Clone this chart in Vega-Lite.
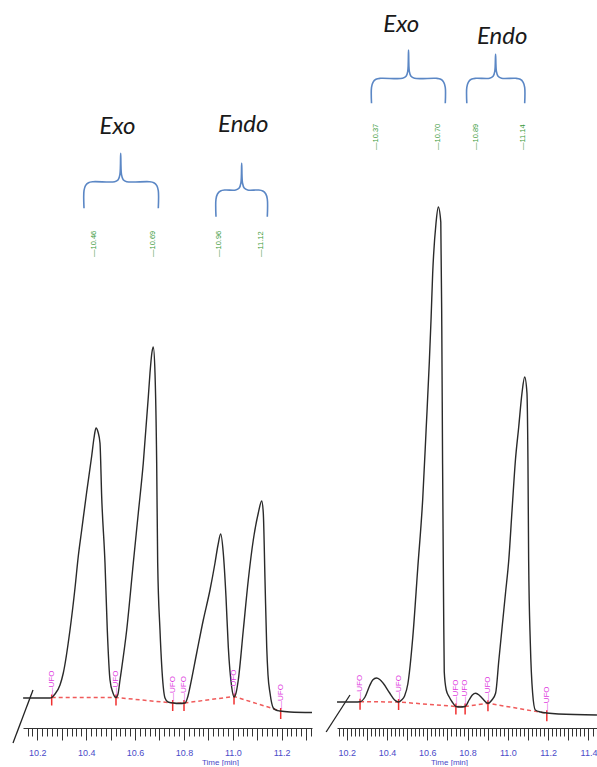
{
  "$schema": "https://vega.github.io/schema/vega-lite/v6.json",
  "padding": {"left": 10, "top": 0, "right": 0, "bottom": 0},
  "bounds": "flush",
  "spacing": 25,
  "background": "white",
  "config": {
    "view": {"stroke": null},
    "axis": {
      "grid": false,
      "domainColor": "#333333",
      "domainWidth": 1,
      "tickColor": "#333333",
      "tickWidth": 1,
      "labelColor": "#4a4ac8",
      "labelFont": "Liberation Sans",
      "labelFontSize": 9,
      "labelPadding": 8,
      "labelFlush": false,
      "labelOverlap": false,
      "titleColor": "#4a4ac8",
      "titleFont": "Liberation Sans",
      "titleFontSize": 8,
      "titleFontWeight": "normal",
      "titlePadding": 1
    }
  },
  "datasets": {
    "lt": [
      {"time": 10.142, "signal": 30}, {"time": 10.252, "signal": 30}, {"time": 10.2589, "signal": 30.5}, {"time": 10.2724, "signal": 34},
      {"time": 10.2929, "signal": 43}, {"time": 10.3064, "signal": 55}, {"time": 10.3338, "signal": 98}, {"time": 10.3543, "signal": 140},
      {"time": 10.3678, "signal": 172}, {"time": 10.3817, "signal": 198}, {"time": 10.4021, "signal": 236}, {"time": 10.4226, "signal": 272},
      {"time": 10.432, "signal": 290}, {"time": 10.4402, "signal": 300}, {"time": 10.4484, "signal": 296}, {"time": 10.4565, "signal": 285},
      {"time": 10.4635, "signal": 231}, {"time": 10.477, "signal": 165}, {"time": 10.4864, "signal": 98}, {"time": 10.4975, "signal": 48},
      {"time": 10.5097, "signal": 35}, {"time": 10.522, "signal": 30.5}, {"time": 10.5302, "signal": 34}, {"time": 10.5384, "signal": 48},
      {"time": 10.5658, "signal": 98}, {"time": 10.5928, "signal": 165}, {"time": 10.6133, "signal": 215}, {"time": 10.6337, "signal": 265},
      {"time": 10.6542, "signal": 331}, {"time": 10.6611, "signal": 355}, {"time": 10.6693, "signal": 376}, {"time": 10.6746, "signal": 381},
      {"time": 10.6816, "signal": 355}, {"time": 10.6885, "signal": 265}, {"time": 10.6926, "signal": 165}, {"time": 10.702, "signal": 98},
      {"time": 10.7155, "signal": 41}, {"time": 10.7225, "signal": 30}, {"time": 10.7347, "signal": 26}, {"time": 10.7565, "signal": 25},
      {"time": 10.7798, "signal": 24.5}, {"time": 10.8043, "signal": 25}, {"time": 10.8166, "signal": 32}, {"time": 10.8248, "signal": 41},
      {"time": 10.8522, "signal": 75}, {"time": 10.8792, "signal": 108}, {"time": 10.9066, "signal": 138}, {"time": 10.9271, "signal": 165},
      {"time": 10.9394, "signal": 183}, {"time": 10.9504, "signal": 194}, {"time": 10.961, "signal": 175}, {"time": 10.9721, "signal": 131},
      {"time": 10.9815, "signal": 81}, {"time": 10.9954, "signal": 41}, {"time": 11.0049, "signal": 31}, {"time": 11.0131, "signal": 35},
      {"time": 11.0224, "signal": 48}, {"time": 11.0429, "signal": 98}, {"time": 11.0633, "signal": 148}, {"time": 11.0838, "signal": 188},
      {"time": 11.1043, "signal": 215}, {"time": 11.1182, "signal": 227}, {"time": 11.1247, "signal": 215}, {"time": 11.1317, "signal": 148},
      {"time": 11.1387, "signal": 81}, {"time": 11.144, "signal": 53}, {"time": 11.1522, "signal": 35}, {"time": 11.1656, "signal": 20},
      {"time": 11.1767, "signal": 18}, {"time": 11.1931, "signal": 17}, {"time": 11.234, "signal": 16}, {"time": 11.324, "signal": 15.5}
    ],
    "rt": [
      {"time": 10.152, "signal": 26}, {"time": 10.2409, "signal": 26}, {"time": 10.2663, "signal": 26.3}, {"time": 10.2909, "signal": 31},
      {"time": 10.3133, "signal": 42}, {"time": 10.3291, "signal": 48}, {"time": 10.3478, "signal": 50}, {"time": 10.364, "signal": 48.5},
      {"time": 10.3803, "signal": 45}, {"time": 10.4133, "signal": 35}, {"time": 10.4379, "signal": 28}, {"time": 10.4576, "signal": 26},
      {"time": 10.4724, "signal": 28}, {"time": 10.4872, "signal": 32}, {"time": 10.5034, "signal": 44}, {"time": 10.5281, "signal": 91},
      {"time": 10.5527, "signal": 160}, {"time": 10.5773, "signal": 229}, {"time": 10.5941, "signal": 298}, {"time": 10.6103, "signal": 367},
      {"time": 10.6187, "signal": 409}, {"time": 10.6266, "signal": 454}, {"time": 10.6433, "signal": 505}, {"time": 10.6547, "signal": 521},
      {"time": 10.667, "signal": 506}, {"time": 10.6719, "signal": 402}, {"time": 10.6759, "signal": 264}, {"time": 10.6808, "signal": 126},
      {"time": 10.6842, "signal": 56}, {"time": 10.6941, "signal": 38}, {"time": 10.7089, "signal": 31}, {"time": 10.7236, "signal": 26},
      {"time": 10.7419, "signal": 21.5}, {"time": 10.7631, "signal": 21}, {"time": 10.7877, "signal": 21.5}, {"time": 10.8074, "signal": 28},
      {"time": 10.8236, "signal": 33}, {"time": 10.8404, "signal": 34.7}, {"time": 10.8567, "signal": 33}, {"time": 10.8714, "signal": 30},
      {"time": 10.901, "signal": 24.7}, {"time": 10.9207, "signal": 28}, {"time": 10.9389, "signal": 34.7}, {"time": 10.9552, "signal": 68},
      {"time": 10.9714, "signal": 101}, {"time": 10.9882, "signal": 135}, {"time": 11.0044, "signal": 168}, {"time": 11.0207, "signal": 218},
      {"time": 11.0374, "signal": 268}, {"time": 11.0537, "signal": 301}, {"time": 11.07, "signal": 335}, {"time": 11.0833, "signal": 351},
      {"time": 11.0946, "signal": 335}, {"time": 11.0995, "signal": 268}, {"time": 11.103, "signal": 168}, {"time": 11.1113, "signal": 85},
      {"time": 11.1227, "signal": 35}, {"time": 11.136, "signal": 18}, {"time": 11.1621, "signal": 16}, {"time": 11.1931, "signal": 15},
      {"time": 11.2507, "signal": 14}, {"time": 11.442, "signal": 13}
    ],
    "lb": [
      {"time": 10.2589, "signal": 30.5}, {"time": 10.522, "signal": 30.5}, {"time": 10.754, "signal": 25},
      {"time": 10.8003, "signal": 25}, {"time": 11.0049, "signal": 31.5}, {"time": 11.1959, "signal": 17}
    ],
    "rb": [
      {"time": 10.2663, "signal": 26.3}, {"time": 10.4576, "signal": 26}, {"time": 10.7419, "signal": 21.5},
      {"time": 10.7877, "signal": 21.5}, {"time": 10.901, "signal": 24.7}, {"time": 11.1931, "signal": 14.7}
    ],
    "lp": [
      {"time": 10.4332, "signal": 471, "label": "—10.46"}, {"time": 10.6746, "signal": 471, "label": "—10.69"},
      {"time": 10.9447, "signal": 471, "label": "—10.96"}, {"time": 11.1153, "signal": 471, "label": "—11.12"}
    ],
    "rp": [
      {"time": 10.3478, "signal": 578, "label": "—10.37"}, {"time": 10.6512, "signal": 578, "label": "—10.70"},
      {"time": 10.8404, "signal": 578, "label": "—10.89"}, {"time": 11.0734, "signal": 578, "label": "—11.14"}
    ],
    "lbr": [
      {"brace": "Exo", "i": 1, "time": 10.3911, "signal": 519.7}, {"brace": "Exo", "i": 2, "time": 10.3911, "signal": 537.3},
      {"brace": "Exo", "i": 3, "time": 10.3972, "signal": 542.3}, {"brace": "Exo", "i": 4, "time": 10.4095, "signal": 545.3},
      {"brace": "Exo", "i": 5, "time": 10.4279, "signal": 546.3}, {"brace": "Exo", "i": 6, "time": 10.5167, "signal": 546.3},
      {"brace": "Exo", "i": 7, "time": 10.531, "signal": 548.3}, {"brace": "Exo", "i": 8, "time": 10.538, "signal": 553.3},
      {"brace": "Exo", "i": 9, "time": 10.5412, "signal": 574.7}, {"brace": "Exo", "i": 10, "time": 10.5445, "signal": 553.3},
      {"brace": "Exo", "i": 11, "time": 10.5515, "signal": 548.3}, {"brace": "Exo", "i": 12, "time": 10.5658, "signal": 546.3},
      {"brace": "Exo", "i": 13, "time": 10.6583, "signal": 546.3}, {"brace": "Exo", "i": 14, "time": 10.6767, "signal": 545.3},
      {"brace": "Exo", "i": 15, "time": 10.689, "signal": 542.3}, {"brace": "Exo", "i": 16, "time": 10.6951, "signal": 537.3},
      {"brace": "Exo", "i": 17, "time": 10.6951, "signal": 519.7},
      {"brace": "Endo", "i": 1, "time": 10.9312, "signal": 511.3}, {"brace": "Endo", "i": 2, "time": 10.9312, "signal": 529},
      {"brace": "Endo", "i": 3, "time": 10.9373, "signal": 534}, {"brace": "Endo", "i": 4, "time": 10.9496, "signal": 537},
      {"brace": "Endo", "i": 5, "time": 10.968, "signal": 538}, {"brace": "Endo", "i": 6, "time": 11.0118, "signal": 538},
      {"brace": "Endo", "i": 7, "time": 11.0261, "signal": 540}, {"brace": "Endo", "i": 8, "time": 11.0331, "signal": 545},
      {"brace": "Endo", "i": 9, "time": 11.0363, "signal": 564.7}, {"brace": "Endo", "i": 10, "time": 11.0396, "signal": 545},
      {"brace": "Endo", "i": 11, "time": 11.0466, "signal": 540}, {"brace": "Endo", "i": 12, "time": 11.0609, "signal": 538},
      {"brace": "Endo", "i": 13, "time": 11.1043, "signal": 538}, {"brace": "Endo", "i": 14, "time": 11.1227, "signal": 537},
      {"brace": "Endo", "i": 15, "time": 11.135, "signal": 534}, {"brace": "Endo", "i": 16, "time": 11.1411, "signal": 529},
      {"brace": "Endo", "i": 17, "time": 11.1411, "signal": 511.3}
    ],
    "rbr": [
      {"brace": "Exo", "i": 1, "time": 10.3232, "signal": 624.7}, {"brace": "Exo", "i": 2, "time": 10.3232, "signal": 640.7},
      {"brace": "Exo", "i": 3, "time": 10.3305, "signal": 645.7}, {"brace": "Exo", "i": 4, "time": 10.3453, "signal": 648.7},
      {"brace": "Exo", "i": 5, "time": 10.3675, "signal": 649.7}, {"brace": "Exo", "i": 6, "time": 10.4773, "signal": 649.7},
      {"brace": "Exo", "i": 7, "time": 10.4946, "signal": 651.7}, {"brace": "Exo", "i": 8, "time": 10.503, "signal": 656.7},
      {"brace": "Exo", "i": 9, "time": 10.5069, "signal": 678}, {"brace": "Exo", "i": 10, "time": 10.5108, "signal": 656.7},
      {"brace": "Exo", "i": 11, "time": 10.5192, "signal": 651.7}, {"brace": "Exo", "i": 12, "time": 10.5365, "signal": 649.7},
      {"brace": "Exo", "i": 13, "time": 10.6448, "signal": 649.7}, {"brace": "Exo", "i": 14, "time": 10.667, "signal": 648.7},
      {"brace": "Exo", "i": 15, "time": 10.6818, "signal": 645.7}, {"brace": "Exo", "i": 16, "time": 10.6892, "signal": 640.7},
      {"brace": "Exo", "i": 17, "time": 10.6892, "signal": 624.7},
      {"brace": "Endo", "i": 1, "time": 10.7961, "signal": 624.7}, {"brace": "Endo", "i": 2, "time": 10.7961, "signal": 640.7},
      {"brace": "Endo", "i": 3, "time": 10.8034, "signal": 645.7}, {"brace": "Endo", "i": 4, "time": 10.8182, "signal": 648.7},
      {"brace": "Endo", "i": 5, "time": 10.8404, "signal": 649.7}, {"brace": "Endo", "i": 6, "time": 10.9094, "signal": 649.7},
      {"brace": "Endo", "i": 7, "time": 10.9266, "signal": 651.7}, {"brace": "Endo", "i": 8, "time": 10.935, "signal": 656.7},
      {"brace": "Endo", "i": 9, "time": 10.9389, "signal": 673.7}, {"brace": "Endo", "i": 10, "time": 10.9429, "signal": 656.7},
      {"brace": "Endo", "i": 11, "time": 10.9512, "signal": 651.7}, {"brace": "Endo", "i": 12, "time": 10.9685, "signal": 649.7},
      {"brace": "Endo", "i": 13, "time": 11.0389, "signal": 649.7}, {"brace": "Endo", "i": 14, "time": 11.0611, "signal": 648.7},
      {"brace": "Endo", "i": 15, "time": 11.0759, "signal": 645.7}, {"brace": "Endo", "i": 16, "time": 11.0833, "signal": 640.7},
      {"brace": "Endo", "i": 17, "time": 11.0833, "signal": 624.7}
    ],
    "ln": [
      {"time": 10.5281, "signal": 601.3, "label": "Exo"}, {"time": 11.0429, "signal": 603, "label": "Endo"}
    ],
    "rn": [
      {"time": 10.4709, "signal": 703, "label": "Exo"}, {"time": 10.9714, "signal": 690.7, "label": "Endo"}
    ],
    "ls": [
      {"time": 10.1006, "signal": -15}, {"time": 10.1824, "signal": 38}
    ],
    "rs": [
      {"time": 10.098, "signal": -4}, {"time": 10.2163, "signal": 33}
    ]
  },
  "hconcat": [
    {
      "width": 289,
      "height": 728,
      "encoding": {
        "x": {
          "field": "time", "type": "quantitative",
          "scale": {"domain": [10.1415, 11.324], "nice": false, "zero": false},
          "axis": {
            "title": "Time [min]",
            "titleX": 197,
            "titleAlign": "center",
            "values": [10.16,10.18,10.2,10.22,10.24,10.26,10.28,10.3,10.32,10.34,10.36,10.38,10.4,10.42,10.44,10.46,10.48,10.5,10.52,10.54,10.56,10.58,10.6,10.62,10.64,10.66,10.68,10.7,10.72,10.74,10.76,10.78,10.8,10.82,10.84,10.86,10.88,10.9,10.92,10.94,10.96,10.98,11,11.02,11.04,11.06,11.08,11.1,11.12,11.14,11.16,11.18,11.2,11.22,11.24,11.26,11.28,11.3,11.32],
            "labelExpr": "abs(datum.value*5 - round(datum.value*5)) < 0.01 ? format(datum.value, '.1f') : ''",
            "tickSize": {"condition": {"test": "abs(datum.value*10 - round(datum.value*10)) < 0.01", "value": 12}, "value": 8}
          }
        },
        "y": {
          "field": "signal", "type": "quantitative",
          "scale": {"domain": [0, 728], "nice": false},
          "axis": null
        }
      },
      "layer": [
        {"data": {"name": "ls"}, "mark": {"type": "line", "color": "#222222", "strokeWidth": 1.3}},
        {"data": {"name": "lb"}, "mark": {"type": "line", "color": "#f05a5a", "strokeWidth": 1.5, "strokeDash": [4, 3]}},
        {"data": {"name": "lb"}, "mark": {"type": "rule", "color": "#f03030", "strokeWidth": 1.5, "yOffset": -3, "y2Offset": 8}, "encoding": {"y2": {"field": "signal"}}},
        {"data": {"name": "lt"}, "mark": {"type": "line", "color": "#2a2a2a", "strokeWidth": 1.4, "interpolate": "monotone"}},
        {"data": {"name": "lb"}, "mark": {"type": "text", "angle": 270, "align": "left", "baseline": "middle", "font": "Liberation Sans", "fontSize": 8, "color": "#e03ce0", "dx": 2}, "encoding": {"text": {"value": "—UFO"}}},
        {"data": {"name": "lp"}, "mark": {"type": "text", "angle": 270, "align": "left", "baseline": "middle", "font": "Liberation Sans", "fontSize": 7.5, "color": "#3a9a3a"}, "encoding": {"text": {"field": "label"}}},
        {"data": {"name": "lbr"}, "mark": {"type": "line", "color": "#5b87c5", "strokeWidth": 1.6, "interpolate": "catmull-rom"}, "encoding": {"order": {"field": "i"}, "detail": {"field": "brace"}}},
        {"data": {"name": "ln"}, "mark": {"type": "text", "font": "Lato", "fontStyle": "italic", "fontSize": 24, "color": "#1a1a1a", "baseline": "middle", "align": "center"}, "encoding": {"text": {"field": "label"}}}
      ]
    },
    {
      "width": 260,
      "height": 728,
      "encoding": {
        "x": {
          "field": "time", "type": "quantitative",
          "scale": {"domain": [10.1519, 11.4422], "nice": false, "zero": false},
          "axis": {
            "title": "Time [min]",
            "titleX": 112,
            "titleAlign": "center",
            "values": [10.16,10.18,10.2,10.22,10.24,10.26,10.28,10.3,10.32,10.34,10.36,10.38,10.4,10.42,10.44,10.46,10.48,10.5,10.52,10.54,10.56,10.58,10.6,10.62,10.64,10.66,10.68,10.7,10.72,10.74,10.76,10.78,10.8,10.82,10.84,10.86,10.88,10.9,10.92,10.94,10.96,10.98,11,11.02,11.04,11.06,11.08,11.1,11.12,11.14,11.16,11.18,11.2,11.22,11.24,11.26,11.28,11.3,11.32,11.34,11.36,11.38,11.4,11.42,11.44],
            "labelExpr": "abs(datum.value*5 - round(datum.value*5)) < 0.01 ? format(datum.value, '.1f') : ''",
            "tickSize": {"condition": {"test": "abs(datum.value*10 - round(datum.value*10)) < 0.01", "value": 12}, "value": 8}
          }
        },
        "y": {
          "field": "signal", "type": "quantitative",
          "scale": {"domain": [0, 728], "nice": false},
          "axis": null
        }
      },
      "layer": [
        {"data": {"name": "rs"}, "mark": {"type": "line", "color": "#222222", "strokeWidth": 1.3}},
        {"data": {"name": "rb"}, "mark": {"type": "line", "color": "#f05a5a", "strokeWidth": 1.5, "strokeDash": [4, 3]}},
        {"data": {"name": "rb"}, "mark": {"type": "rule", "color": "#f03030", "strokeWidth": 1.5, "yOffset": -3, "y2Offset": 8}, "encoding": {"y2": {"field": "signal"}}},
        {"data": {"name": "rt"}, "mark": {"type": "line", "color": "#2a2a2a", "strokeWidth": 1.4, "interpolate": "monotone"}},
        {"data": {"name": "rb"}, "mark": {"type": "text", "angle": 270, "align": "left", "baseline": "middle", "font": "Liberation Sans", "fontSize": 8, "color": "#e03ce0", "dx": 2}, "encoding": {"text": {"value": "—UFO"}}},
        {"data": {"name": "rp"}, "mark": {"type": "text", "angle": 270, "align": "left", "baseline": "middle", "font": "Liberation Sans", "fontSize": 7.5, "color": "#3a9a3a"}, "encoding": {"text": {"field": "label"}}},
        {"data": {"name": "rbr"}, "mark": {"type": "line", "color": "#5b87c5", "strokeWidth": 1.6, "interpolate": "catmull-rom"}, "encoding": {"order": {"field": "i"}, "detail": {"field": "brace"}}},
        {"data": {"name": "rn"}, "mark": {"type": "text", "font": "Lato", "fontStyle": "italic", "fontSize": 24, "color": "#1a1a1a", "baseline": "middle", "align": "center"}, "encoding": {"text": {"field": "label"}}}
      ]
    }
  ]
}
